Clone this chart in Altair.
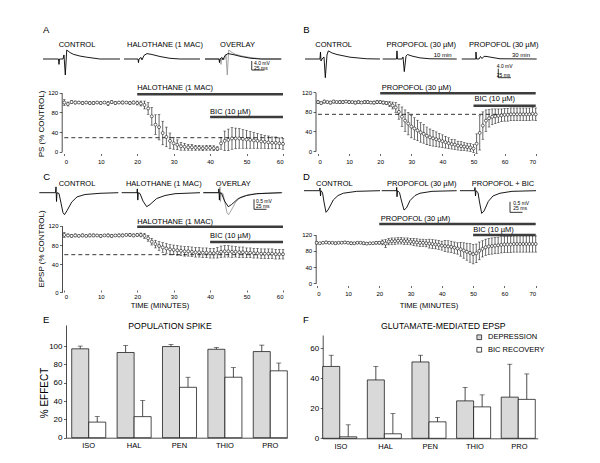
import altair as alt
import pandas as pd

FONT = "Liberation Sans"
W = 292
H1, H2, H3 = 162, 142, 143

# ---------------- time-course data (minutes, % control, error) ----------------
A_t = list(range(61))
A_m = [100, 97, 101, 100, 100, 99, 100, 99, 99, 100, 99, 100, 98, 101, 99, 100, 100, 100, 99, 100,
       99, 98, 95, 88, 72, 55, 50, 38, 30, 22, 17, 14, 11, 10, 9, 9, 8, 8, 7, 8,
       8, 7, 6, 17, 22, 24, 27, 27, 27, 26, 25, 24, 23, 22, 21, 20, 19, 18, 18, 17, 16]
A_e = [6, 4, 3, 3, 2, 3, 2, 3, 3, 2, 3, 2, 4, 3, 3, 2, 3, 2, 3, 3,
       4, 5, 8, 12, 18, 20, 26, 24, 20, 16, 12, 10, 8, 7, 6, 6, 5, 5, 5, 5,
       5, 5, 4, 12, 20, 22, 22, 21, 20, 19, 18, 17, 16, 15, 14, 13, 13, 12, 12, 11, 11]

B_t = list(range(71))
B_m = [100, 98, 101, 100, 99, 101, 100, 100, 100, 101, 100, 100, 99, 100, 99, 100, 100, 99, 99, 100,
       100, 99, 98, 96, 93, 89, 80, 70, 62, 56, 50, 46, 42, 38, 35, 31, 28, 26, 24, 22,
       20, 18, 16, 14, 13, 11, 10, 9, 8, 7, 5, 15, 37, 52, 62, 67, 70, 71, 72, 73,
       74, 74, 75, 75, 75, 75, 75, 75, 75, 76, 75]
B_e = [3, 2, 3, 2, 3, 3, 2, 3, 3, 2, 3, 2, 3, 3, 2, 3, 3, 2, 3, 3, 3, 3, 3,
       5, 7, 10, 15, 20, 22, 23, 23, 22, 21, 20, 19, 18, 17, 16, 15, 14,
       13, 12, 11, 10, 10, 9, 9, 8, 8, 8, 8, 20, 35, 28, 22, 18, 16, 15, 14, 13,
       13, 13, 13, 13, 13, 13, 13, 13, 13, 13, 13]

C_t = list(range(61))
C_m = [101, 100, 99, 100, 99, 100, 99, 100, 100, 100, 99, 100, 100, 99, 100, 100, 100, 101, 101, 100,
       101, 101, 99, 94, 87, 82, 78, 75, 73, 71, 70, 69, 68, 67, 67, 66, 65, 65, 64, 64,
       63, 63, 64, 66, 67, 67, 66, 66, 65, 65, 64, 64, 63, 63, 62, 62, 62, 62, 61, 61, 61]
C_e = [5, 3, 3, 3, 2, 3, 2, 3, 3, 2, 3, 2, 3, 3, 2, 3, 3, 2, 3, 3,
       3, 4, 5, 6, 7, 8, 9, 10, 10, 10, 10, 10, 10, 10, 10, 10, 10, 10, 10, 10,
       10, 10, 11, 12, 12, 12, 12, 11, 11, 11, 10, 10, 10, 10, 10, 10, 10, 10, 10, 10, 10]

D_t = list(range(71))
D_m = [100, 99, 100, 101, 100, 100, 99, 100, 100, 101, 100, 99, 99, 100, 100, 99, 98, 99, 99, 100,
       100, 101, 98, 103, 104, 104, 105, 105, 104, 104, 103, 102, 101, 100, 100, 99, 98, 97, 96, 95,
       93, 92, 91, 90, 88, 86, 84, 81, 78, 75, 72, 74, 80, 85, 89, 91, 92, 93, 94, 95,
       96, 96, 96, 97, 97, 97, 97, 97, 97, 97, 97]
D_e = [3, 2, 2, 3, 2, 2, 3, 2, 2, 2, 2, 3, 2, 2, 2, 3, 2, 2, 2, 3,
       3, 6, 10, 8, 8, 8, 8, 8, 8, 8, 8, 9, 9, 9, 9, 9, 11, 11, 11, 11,
       11, 14, 14, 14, 14, 14, 17, 19, 21, 23, 24, 23, 22, 20, 20, 20, 20, 20, 20, 20,
       20, 20, 20, 20, 20, 20, 20, 20, 20, 20, 20]

# ---------------- example traces (ms, mV) ----------------
A_ctrl_ms = [0, 30.5, 31.5, 32.5, 39.4, 41.3, 43.9, 46.7, 53, 59.6, 72.8, 86, 112, 151.6]
A_ctrl_mv = [0, 0, -2.4, 0, 0, 1.8, -7.1, 4.0, 2.9, 2.1, 1.3, 0.8, 0, 0]
A_hal_ms = [0, 27.6, 28.5, 29.5, 33.5, 35.4, 39.4, 45.3, 55.1, 70.9, 90.6, 110, 149.6]
A_hal_mv = [0, 0, -1.6, 0, 0.7, -0.4, 1.6, 2.4, 2.0, 1.1, 0.3, 0, 0]

B_ctrl_ms = [0, 29.5, 30.5, 31.5, 33.5, 37.4, 40, 43.3, 45.9, 53.1, 63, 88.6, 121.5, 147.6]
B_ctrl_mv = [0, 0, 3.1, -0.9, 0, 0.9, -8.3, 1.8, 3.6, 2.7, 2.0, 0.8, 0.1, 0]
B_p10_ms = [0, 27.2, 28.1, 29.1, 38, 40, 42.5, 45.9, 48.8, 57.7, 73.4, 93, 145.7]
B_p10_mv = [0, 0, 3.6, 0, 0, 0.9, -5.6, 1.3, 2.0, 1.3, 0.5, 0.1, 0]
B_p30_ms = [0, 27.8, 28.1, 29.1, 34, 37, 40, 43.9, 49.8, 59.6, 75.4, 147.6]
B_p30_mv = [0, 0, 3.1, 0, 0, 1.1, 0.2, 1.2, 1.1, 0.7, 0.1, 0]

C_ctrl_ms = [0, 32.4, 33.4, 34.4, 35.4, 39.4, 43.4, 47.4, 50.4, 55.4, 64.8, 75.4, 91.4, 121.4, 158]
C_ctrl_mv = [0, 0, 0.29, -0.44, 0, -0.04, -0.52, -1.0, -1.1, -0.9, -0.47, -0.21, -0.09, -0.03, 0]
C_hal_ms = [0, 30.6, 31.2, 32.2, 33.2, 36.6, 42.6, 50, 56.6, 70, 86.6, 106.6, 156.6]
C_hal_mv = [0, 0, 0.19, -0.37, 0, -0.04, -0.42, -0.7, -0.59, -0.29, -0.14, -0.05, 0]

D_ctrl_ms = [0, 31, 32, 33, 34, 37, 40, 44, 48, 58.6, 68, 78.6, 105.4, 152]
D_ctrl_mv = [0, 0, 0.13, -0.25, 0, -0.09, -0.54, -1.03, -0.92, -0.44, -0.23, -0.12, -0.03, 0]
D_prop_ms = [0, 29.6, 30, 30.6, 31.6, 35.6, 39.6, 44.6, 49.6, 56.6, 66.6, 76.6, 100.6, 150]
D_prop_mv = [0, 0, 0.16, -0.29, 0, -0.09, -0.49, -0.92, -0.82, -0.47, -0.23, -0.12, -0.03, 0]
D_bic_ms = [0, 29, 30, 31, 32, 36, 39, 43.4, 48, 56.6, 66, 80, 104, 152]
D_bic_mv = [0, 0, 0.15, -0.25, 0, -0.09, -0.54, -1.08, -0.97, -0.51, -0.25, -0.12, -0.03, 0]

# ---------------- bar data ----------------
CATS = ["ISO", "HAL", "PEN", "THIO", "PRO"]
GROUPS = ["DEPRESSION", "BIC RECOVERY"]
E_dep = [97, 93, 99.5, 96.5, 94]
E_dep_err = [3, 7.5, 2.2, 1.8, 7]
E_rec = [17, 23, 55, 66, 73]
E_rec_err = [6, 17.5, 11, 10.5, 8.5]
F_dep = [48, 39, 51, 25, 27.5]
F_dep_err = [7.5, 9, 4.5, 9, 22]
F_rec = [1, 3, 11, 21, 26]
F_rec_err = [8, 13.5, 3, 8, 17]

one = pd.DataFrame({"k": [0]})
TRACE_COLOR = "black"
OVER_GRAY = "#9a9a9a"
BAR_COLOR = "#3c3c3c"


def S(dom, rng):
    return alt.Scale(domain=dom, range=rng, nice=False, zero=False)


def label(text, x, y, size=7.5, align="center", angle=0):
    return alt.Chart(one).mark_text(text=text, fontSize=size, font=FONT, align=align,
                                    baseline="middle", angle=angle, color="black").encode(
        x=alt.value(x), y=alt.value(y))


def taxis(values, offset, ts=2.0, pad=2.5):
    return alt.Axis(values=values, offset=offset, domain=False, ticks=True, tickSize=ts,
                    tickWidth=0.6, tickColor="black", labelFontSize=6, labelPadding=pad,
                    labelColor="black", labelFont=FONT, grid=False, title=None)


def yaxis(values, offset, fs=6, ts=2.5, pad=1.5):
    return alt.Axis(values=values, offset=offset, domain=True, domainColor="black",
                    domainWidth=0.7, tickSize=ts, tickWidth=0.6, tickColor="black",
                    labelFontSize=fs, labelPadding=pad, labelColor="black", labelFont=FONT,
                    grid=False, title=None)


def timecourse(t, m, e, xs, ys, xax, yax):
    df = pd.DataFrame({"t": t, "m": m, "e": e})
    df["lo"] = df["m"] - df["e"]
    df["hi"] = df["m"] + df["e"]
    base = alt.Chart(df)
    X = alt.X("t:Q", scale=xs, axis=None)
    rule = base.mark_rule(color="black", strokeWidth=0.6).encode(
        x=X, y=alt.Y("lo:Q", scale=ys, axis=None), y2="hi:Q")
    cl = base.mark_tick(orient="horizontal", size=2.6, thickness=0.6, color="black").encode(
        x=X, y=alt.Y("lo:Q", scale=ys, axis=None))
    ch = base.mark_tick(orient="horizontal", size=2.6, thickness=0.6, color="black").encode(
        x=X, y=alt.Y("hi:Q", scale=ys, axis=None))
    pts = base.mark_point(filled=True, fill="white", stroke="black", strokeWidth=0.55,
                          size=9, opacity=1).encode(
        x=alt.X("t:Q", scale=xs, axis=xax), y=alt.Y("m:Q", scale=ys, axis=yax))
    return [rule, cl, ch, pts]


def hbar(x1, x2, y, xs, ys, width=2.4, color=BAR_COLOR, dash=None):
    mk = dict(color=color, strokeWidth=width)
    if dash:
        mk["strokeDash"] = dash
    return alt.Chart(one).mark_rule(**mk).encode(
        x=alt.XDatum(x1, scale=xs, axis=None, type="quantitative"), x2=alt.X2Datum(x2),
        y=alt.YDatum(y, scale=ys, axis=None, type="quantitative"))


def vbar(x, y1, y2, xs, ys, width=0.8, color="black"):
    return alt.Chart(one).mark_rule(color=color, strokeWidth=width).encode(
        x=alt.XDatum(x, scale=xs, axis=None, type="quantitative"),
        y=alt.YDatum(y1, scale=ys, axis=None, type="quantitative"), y2=alt.Y2Datum(y2))


def dtext(text, x, y, xs, ys, size=7.5, align="left"):
    return alt.Chart(one).mark_text(text=text, fontSize=size, font=FONT, align=align,
                                    baseline="middle", color="black").encode(
        x=alt.XDatum(x, scale=xs, axis=None, type="quantitative"),
        y=alt.YDatum(y, scale=ys, axis=None, type="quantitative"))


def tscales(x0, y0, kx, ky):
    return S([0, 150], [x0, x0 + 150 * kx]), S([0, 1], [y0, y0 - ky])


def trace(ms, mv, sc, color=TRACE_COLOR, sw=0.9):
    xs, ys = sc
    df = pd.DataFrame({"ms": ms, "mv": mv})
    return alt.Chart(df).mark_line(color=color, strokeWidth=sw).encode(
        x=alt.X("ms:Q", scale=xs, axis=None), y=alt.Y("mv:Q", scale=ys, axis=None))


def scalebar(sc, x, ybot, vlen, hlen, t1, t2, tx, ty1, ty2):
    xs, ys = sc
    return [vbar(x, ybot, ybot + vlen, xs, ys),
            hbar(x, x + hlen, ybot, xs, ys, width=0.8, color="black"),
            dtext(t1, tx, ty1, xs, ys, size=5),
            dtext(t2, tx, ty2, xs, ys, size=5)]


def panel(layers, h):
    return alt.layer(*layers).resolve_scale(x="independent", y="independent").properties(
        width=W, height=h)


# ---------------- Panel A ----------------
xsA = S([0, 60], [56.3, 275]); ysA = S([0, 120], [143.7, 84.7])
kA = (0.508, 2.25)
tA1 = tscales(35, 51, *kA); tA2 = tscales(116, 51, *kA); tA3 = tscales(197, 51, *kA)
layA = [hbar(0, 60, 28.5, xsA, ysA, width=0.8, color="black", dash=[4, 3])]
layA += timecourse(A_t, A_m, A_e, xsA, ysA, taxis(list(range(0, 61, 10)), -16.5),
                   yaxis([0, 40, 80, 120], -53.7))
layA += [hbar(20, 60, 116.7, xsA, ysA), hbar(40, 60, 70.6, xsA, ysA),
         dtext("HALOTHANE (1 MAC)", 20, 129, xsA, ysA), dtext("BIC (10 µM)", 40, 80.3, xsA, ysA),
         trace(A_ctrl_ms, A_ctrl_mv, tA1), trace(A_hal_ms, A_hal_mv, tA2),
         trace(A_ctrl_ms, A_ctrl_mv, tA3, color=OVER_GRAY), trace(A_hal_ms, A_hal_mv, tA3)]
layA += scalebar(tA3, 92, -4.9, 4, 25, "4.0 mV", "25 ms", 96.5, -1.9, -4.1)
layA += [label("A", 35, 22, size=9.5, align="left"), label("CONTROL", 69, 37),
         label("HALOTHANE (1 MAC)", 157, 37), label("OVERLAY", 229.5, 37),
         label("PS  (% CONTROL)", 34, 116, size=8, angle=270)]
A = panel(layA, H1)

# ---------------- Panel B ----------------
xsB = S([0, 70], [18, 235.7]); ysB = S([0, 120], [143, 84.3])
tB1 = tscales(5, 51, *kA); tB2 = tscales(82.7, 51, *kA); tB3 = tscales(161.7, 51, *kA)
layB = [hbar(0, 70, 75, xsB, ysB, width=0.8, color="black", dash=[4, 3])]
layB += timecourse(B_t, B_m, B_e, xsB, ysB, taxis(list(range(0, 71, 10)), -16.5),
                   yaxis([0, 40, 80, 120], -15.5))
layB += [hbar(20, 70, 118, xsB, ysB), hbar(50, 70, 92.6, xsB, ysB),
         dtext("PROPOFOL (30 µM)", 20.5, 128.2, xsB, ysB), dtext("BIC (10 µM)", 50.3, 105.7, xsB, ysB),
         trace(B_ctrl_ms, B_ctrl_mv, tB1), trace(B_p10_ms, B_p10_mv, tB2),
         trace(B_p30_ms, B_p30_mv, tB3),
         dtext("10 min", 135.8, 1.9, *tB2, size=6, align="right"),
         dtext("30 min", 134.4, 1.9, *tB3, size=6, align="right")]
layB += scalebar(tB3, 72, -8.3, 4, 25, "4.0 mV", "25 ms", 69, -2.9, -7.1)
layB += [label("B", 3.3, 22, size=9.5, align="left"), label("CONTROL", 33.7, 37),
         label("PROPOFOL (30 µM)", 121.3, 37), label("PROPOFOL (30 µM)", 203.7, 37)]
B = panel(layB, H1)

# ---------------- Panel C ----------------
xsC = S([0, 60], [56.3, 275]); ysC = S([0, 40, 120], [122.2, 94.3, 55.8])
kC = (0.5, 20)
tC1 = tscales(31.3, 22.7, *kC); tC2 = tscales(113.7, 22.7, *kC); tC3 = tscales(195.3, 22.7, *kC)
layC = [hbar(0, 60, 60, xsC, ysC, width=0.8, color="black", dash=[4, 3])]
layC += timecourse(C_t, C_m, C_e, xsC, ysC, taxis(list(range(0, 61, 10)), -22, ts=2, pad=1.5),
                   yaxis([0, 40, 80, 120], -54))
layC += [hbar(20, 60, 118, xsC, ysC), hbar(40, 60, 86.4, xsC, ysC),
         dtext("HALOTHANE (1 MAC)", 20, 128.6, xsC, ysC), dtext("BIC (10 µM)", 40, 98.2, xsC, ysC),
         trace(C_ctrl_ms, C_ctrl_mv, tC1), trace(C_hal_ms, C_hal_mv, tC2),
         trace(C_ctrl_ms, C_ctrl_mv, tC3, color=OVER_GRAY), trace(C_hal_ms, C_hal_mv, tC3)]
layC += scalebar(tC3, 101.4, -0.83, 0.5, 25, "0.5 mV", "25 ms", 105.4, -0.42, -0.67)
layC += [label("C", 35.3, 6.7, size=9.5, align="left"), label("CONTROL", 69, 14),
         label("HALOTHANE (1 MAC)", 155.8, 14), label("OVERLAY", 225.3, 14),
         label("EPSP  (% CONTROL)", 34, 79, size=8, angle=270),
         label("TIME (MINUTES)", 152, 136, size=7.5)]
C = panel(layC, H2)

# ---------------- Panel D ----------------
xsD = S([0, 70], [16.7, 235.7]); ysD = S([0, 120], [113.3, 64.7])
kD = (0.5, 21)
tD1 = tscales(4, 20.7, *kD); tD2 = tscales(81.7, 20.7, *kD); tD3 = tscales(160, 20.7, *kD)
layD = timecourse(D_t, D_m, D_e, xsD, ysD, taxis(list(range(0, 71, 10)), -26.5),
                  yaxis([0, 40, 80, 120], -15.7))
layD += [hbar(20, 70, 146.4, xsD, ysD), hbar(50, 70, 119.3, xsD, ysD),
         dtext("PROPOFOL (30 µM)", 20.5, 158, xsD, ysD), dtext("BIC (10 µM)", 50, 131.6, xsD, ysD),
         trace(D_ctrl_ms, D_ctrl_mv, tD1), trace(D_prop_ms, D_prop_mv, tD2),
         trace(D_bic_ms, D_bic_mv, tD3)]
layD += scalebar(tD3, 100, -1.03, 0.5, 25, "0.5 mV", "25 ms", 106.6, -0.57, -0.84)
layD += [label("D", 3, 6.7, size=9.5, align="left"), label("CONTROL", 34.3, 14),
         label("PROPOFOL (30 µM)", 121.7, 14), label("PROPOFOL + BIC", 203, 14),
         label("TIME (MINUTES)", 129, 136, size=7.5)]
D = panel(layD, H2)


# ---------------- Panels E and F (bars) ----------------
def bars(dep, dep_err, rec, rec_err, xs, ys, yvals, yoff, xoff, legend):
    df = pd.DataFrame({
        "cat": CATS * 2,
        "grp": [GROUPS[0]] * 5 + [GROUPS[1]] * 5,
        "v": dep + rec,
        "err": dep_err + rec_err,
    })
    df["hi"] = df["v"] + df["err"]
    base = alt.Chart(df)
    xax = alt.Axis(offset=xoff, domain=True, domainColor="black", domainWidth=0.7, ticks=False,
                   labelFontSize=7.5, labelPadding=4, labelAngle=0, labelColor="black",
                   labelFont=FONT, grid=False, title=None)
    yax = yaxis(yvals, yoff, fs=8, ts=2.5, pad=1.5)
    X = alt.X("cat:N", sort=CATS, scale=xs, axis=xax)
    XO = alt.XOffset("grp:N", sort=GROUPS, scale=alt.Scale(domain=GROUPS, paddingInner=0, paddingOuter=0))
    b = base.mark_bar(stroke="black", strokeWidth=0.7).encode(
        x=X, xOffset=XO,
        y=alt.Y("v:Q", scale=ys, axis=yax),
        color=alt.Color("grp:N", sort=GROUPS,
                        scale=alt.Scale(domain=GROUPS, range=["#d9d9d9", "white"]),
                        legend=legend))
    r = base.mark_rule(color="black", strokeWidth=0.7).encode(
        x=X, xOffset=XO, y=alt.Y("v:Q", scale=ys, axis=yax), y2="hi:Q")
    c = base.mark_tick(orient="horizontal", size=5, thickness=0.7, color="black").encode(
        x=X, xOffset=XO, y=alt.Y("hi:Q", scale=ys, axis=yax))
    return [r, c, b]


xsE = alt.Scale(domain=CATS, range=[58, 279.3], paddingInner=0.25, paddingOuter=0.063, align=1)
ysE = S([0, 123], [125.7, 13])
layE = bars(E_dep, E_dep_err, E_rec, E_rec_err, xsE, ysE, [0, 20, 40, 60, 80, 100], -58, -17.3, None)
layE += [label("E", 35, 7.7, size=9.5, align="left"),
         label("POPULATION SPIKE", 162, 14, size=8.7),
         label("% EFFECT", 37, 81, size=10, angle=270)]
E = alt.layer(*layE).properties(width=W, height=H3)

xsF = alt.Scale(domain=CATS, range=[22.7, 237.7], paddingInner=0.183, paddingOuter=0)
ysF = S([0, 69], [126.3, 23])
legF = alt.Legend(orient="none", legendX=175.5, legendY=21.5, title=None, symbolType="square",
                  symbolSize=22, symbolStrokeColor="black", symbolStrokeWidth=0.7,
                  labelFontSize=7.5, labelFont=FONT, labelColor="black", rowPadding=3.5,
                  labelOffset=5, padding=0)
layF = bars(F_dep, F_dep_err, F_rec, F_rec_err, xsF, ysF, [0, 20, 40, 60], -22.7, -16.7, legF)
layF += [label("F", 3, 7.7, size=9.5, align="left"),
         label("GLUTAMATE-MEDIATED EPSP", 143.3, 14, size=8.7)]
F = alt.layer(*layF).properties(width=W, height=H3)

chart = alt.concat(A, B, C, D, E, F, columns=2, spacing=0, bounds="flush").properties(
    padding=0).resolve_scale(color="independent").resolve_legend(color="independent").configure(
    font=FONT, view=alt.ViewConfig(stroke=None))

chart.save("out.html", embed_options={"renderer": "svg", "actions": False})
